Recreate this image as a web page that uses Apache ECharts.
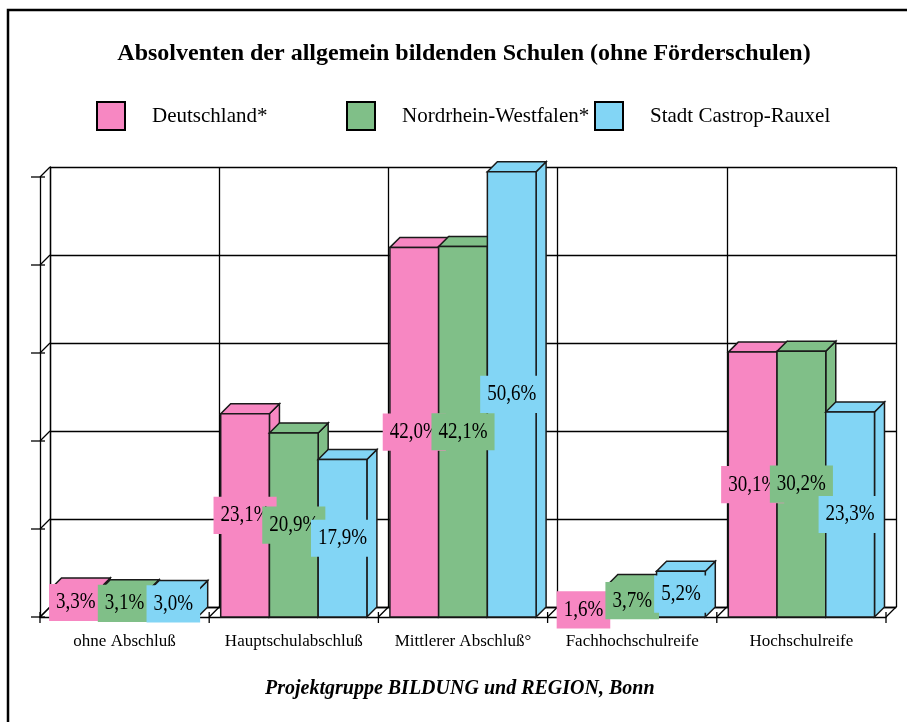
<!DOCTYPE html>
<html>
<head>
<meta charset="utf-8">
<script src="https://cdn.jsdelivr.net/npm/echarts@6/dist/echarts.min.js"></script>
<style>
  html, body { margin: 0; padding: 0; background: #fff; }
  #chart { width: 907px; height: 722px; }
</style>
</head>
<body>
<div id="chart"></div>
<script>
const categories = ['ohne Abschluß', 'Hauptschulabschluß', 'Mittlerer Abschluß°', 'Fachhochschulreife', 'Hochschulreife'];
const seriesNames = ['Deutschland*', 'Nordrhein-Westfalen*', 'Stadt Castrop-Rauxel'];
const deutschland = [3.3, 23.1, 42.0, 1.6, 30.1];
const nrw = [3.1, 20.9, 42.1, 3.7, 30.2];
const castrop = [3.0, 17.9, 50.6, 5.2, 23.3];
const yTicks = [0, 10, 20, 30, 40, 50];

const colors = ['#f787c2', '#80bf88', '#82d5f5'];
const DEPTH = 10;
const FONT = 'Liberation Serif';

const chart = echarts.init(document.getElementById('chart'));

// 3D-ish bar: side, top, front, then value label on top of everything
function barRenderer(s) {
  return function (params, api) {
    const cat = api.value(0);
    const val = api.value(1);
    const top = api.coord([cat, val]);
    const base = api.coord([cat, 0]);
    const band = api.size([1, 0])[0];
    const bw = band * 0.288;
    const x0 = top[0] - 1.5 * bw + s * bw;
    const x1 = x0 + bw;
    const yT = top[1], yB = base[1];
    const color = colors[s];
    const stroke = { fill: color, stroke: '#1a1a1a', lineWidth: 1.5 };
    const txt = val.toFixed(1).replace('.', ',') + '%';
    const cx = (x0 + x1) / 2, cy = (yT + yB) / 2;
    return {
      type: 'group',
      children: [
        { type: 'polygon', z2: s * 10 + 1,
          shape: { points: [[x1, yT], [x1 + DEPTH, yT - DEPTH], [x1 + DEPTH, yB - DEPTH], [x1, yB]] },
          style: stroke },
        { type: 'polygon', z2: s * 10 + 2,
          shape: { points: [[x0, yT], [x0 + DEPTH, yT - DEPTH], [x1 + DEPTH, yT - DEPTH], [x1, yT]] },
          style: stroke },
        { type: 'rect', z2: s * 10 + 3,
          shape: { x: x0, y: yT, width: bw, height: yB - yT },
          style: stroke },
        { type: 'text', z2: 100 + s,
          x: cx, y: cy, scaleY: 1.2,
          style: {
            text: txt, x: 0, y: 0,
            align: 'center', verticalAlign: 'middle',
            font: '19px "' + FONT + '"', fill: '#000',
            backgroundColor: color, padding: [6, 7]
          } }
      ]
    };
  };
}

function frameRenderer(params, api) {
  const lines = [];
  const band = api.size([1, 0])[0];
  const ln = (a, b) => lines.push({ type: 'line', shape: { x1: a[0], y1: a[1], x2: b[0], y2: b[1] },
    style: { stroke: '#000', lineWidth: 1.3 } });
  const left = api.coord([0, 0])[0] - band / 2;
  yTicks.forEach(v => {
    const y = api.coord([0, v])[1];
    ln([left - 9, y], [left + 5, y]);
    ln([left, y], [left + DEPTH, y - DEPTH]);
  });
  const y0 = api.coord([0, 0])[1];
  for (let i = 0; i <= categories.length; i++) {
    const x = left + i * band;
    ln([x, y0], [x + DEPTH, y0 - DEPTH]);
    ln([x, y0 - 5], [x, y0 + 6]);
  }
  return { type: 'group', children: lines };
}

const dataSets = [deutschland, nrw, castrop];

const legendLefts = [96, 346, 594];

const option = {
  animation: false,
  backgroundColor: '#fff',
  title: {
    text: 'Absolventen der allgemein bildenden Schulen (ohne Förderschulen)',
    left: 459, top: 37, textAlign: 'center',
    textStyle: { fontFamily: FONT, fontSize: 24, fontWeight: 'bold', color: '#000' }
  },
  legend: seriesNames.map((n, i) => ({
    data: [n], left: legendLefts[i], top: 101, padding: 0,
    icon: 'rect', itemWidth: 28, itemHeight: 28,
    itemStyle: { borderColor: '#000', borderWidth: 2 },
    selectedMode: false,
    textStyle: { fontFamily: FONT, fontSize: 21, color: '#000', padding: [0, 0, 0, 22] }
  })),
  grid: [
    { left: 40, right: 21, top: 177, bottom: 105 },
    { left: 40 + DEPTH, right: 21 - DEPTH, top: 177 - DEPTH, bottom: 105 + DEPTH }
  ],
  xAxis: [
    { type: 'category', gridIndex: 0, data: categories,
      axisLine: { show: true, lineStyle: { color: '#000', width: 1.3 } },
      axisTick: { show: false },
      axisLabel: { margin: 16, fontFamily: FONT, fontSize: 17, color: '#000', interval: 0 },
      splitLine: { show: false } },
    { type: 'category', gridIndex: 1, data: categories,
      axisLine: { show: true, lineStyle: { color: '#000', width: 1.3 } },
      axisTick: { show: false }, axisLabel: { show: false },
      splitLine: { show: true, lineStyle: { color: '#000', width: 1.3 } } }
  ],
  yAxis: [
    { type: 'value', gridIndex: 0, min: 0, max: 50, interval: 10,
      axisLine: { show: true, lineStyle: { color: '#000', width: 1.3 } },
      axisTick: { show: false }, axisLabel: { show: false }, splitLine: { show: false } },
    { type: 'value', gridIndex: 1, min: 0, max: 50, interval: 10,
      axisLine: { show: true, lineStyle: { color: '#000', width: 1.3 } },
      axisTick: { show: false }, axisLabel: { show: false },
      splitLine: { show: true, lineStyle: { color: '#000', width: 1.3 } } }
  ],
  series: [
    { type: 'custom', name: 'frame', xAxisIndex: 0, yAxisIndex: 0, z: 1,
      renderItem: frameRenderer, data: [[0, 0]], silent: true }
  ].concat(seriesNames.map((n, s) => ({
    type: 'custom', name: n, xAxisIndex: 0, yAxisIndex: 0,
    itemStyle: { color: colors[s] },
    renderItem: barRenderer(s),
    data: dataSets[s].map((v, i) => [i, v])
  }))),
  graphic: [
    { type: 'polyline', shape: { points: [[8, 722], [8, 10], [907, 10]] },
      style: { stroke: '#000', lineWidth: 2.5, fill: null } },
    { type: 'text', left: 265, top: 679,
      style: { text: 'Projektgruppe BILDUNG und REGION, Bonn',
        font: 'italic bold 20px "' + FONT + '"', fill: '#000' } }
  ]
};

chart.setOption(option);
</script>
</body>
</html>
